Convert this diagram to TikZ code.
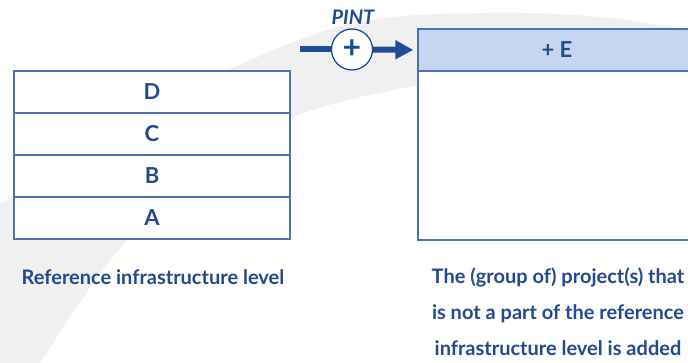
\documentclass[tikz,border=0pt]{standalone}
\usepackage{fontspec}
\setmainfont{Lato}
\usetikzlibrary{arrows.meta}
\definecolor{txt}{HTML}{23498F}
\definecolor{arr}{HTML}{1E4C97}
\definecolor{brd}{HTML}{4D70B8}
\definecolor{hdr}{HTML}{C7D6F0}
\definecolor{bg}{HTML}{F0F0F0}
\begin{document}
\begin{tikzpicture}[x=1pt,y=-1pt,
  rowbox/.style={draw=brd, line width=1.3pt, fill=white, minimum width=276pt, minimum height=42pt, inner sep=0pt, font=\fontsize{22}{26}\selectfont\bfseries, text=txt},
  caption/.style={text=txt, font=\fontsize{20}{36}\selectfont\bfseries, align=center, inner sep=0pt},
  thickarrow/.style={draw=arr, line width=6pt}]
\useasboundingbox (0,0) rectangle (688,363);
\clip (0,0) rectangle (688,363);
% background band
\fill[bg] plot[smooth, tension=0.6] coordinates {(-10,212) (0,204) (100,136) (217,75) (350,24) (480,13) (600,17) (700,32)}
  -- plot[smooth, tension=0.6] coordinates {(700,113) (600,88) (510,77) (420,85) (290,118) (203,175) (119,250) (40,363) (35,375)}
  -- (-10,375) -- cycle;
% left stack
\node[rowbox] (d) at (152,92) {D};
\node[rowbox] (c) at (152,134) {C};
\node[rowbox] (b) at (152,176) {B};
\node[rowbox] (a) at (152,218) {A};
% right box
\node[rowbox, minimum height=169pt, minimum width=278pt] (body) at (557,155.5) {};
\node[rowbox, fill=hdr, minimum width=278pt] (hdr) at (557,50) {+ E};
% operator
\node[circle, draw=arr, line width=1.3pt, fill=white, minimum size=41pt, inner sep=0pt, text=arr, font=\fontsize{32}{32}\selectfont\bfseries] (plus) at (352,49.5) {\raisebox{1.5pt}{+}};
\node[text=txt, font=\fontsize{20}{22}\selectfont\bfseries\itshape, inner sep=0pt] (pint) at (353,17) {PINT};
\coordinate (start) at (300,49.5);
\draw[thickarrow] (start) -- (plus.west);
\draw[thickarrow, -{Triangle[length=18pt,width=18pt]}, shorten >=4pt] (plus.east) -- (hdr.west);
% captions
\node[caption] (lcap) at (153,277) {Reference infrastructure level};
\node[caption] (rcap) at (558,312) {The (group of) project(s) that\\is not a part of the reference\\infrastructure level is added};
\end{tikzpicture}
\end{document}
